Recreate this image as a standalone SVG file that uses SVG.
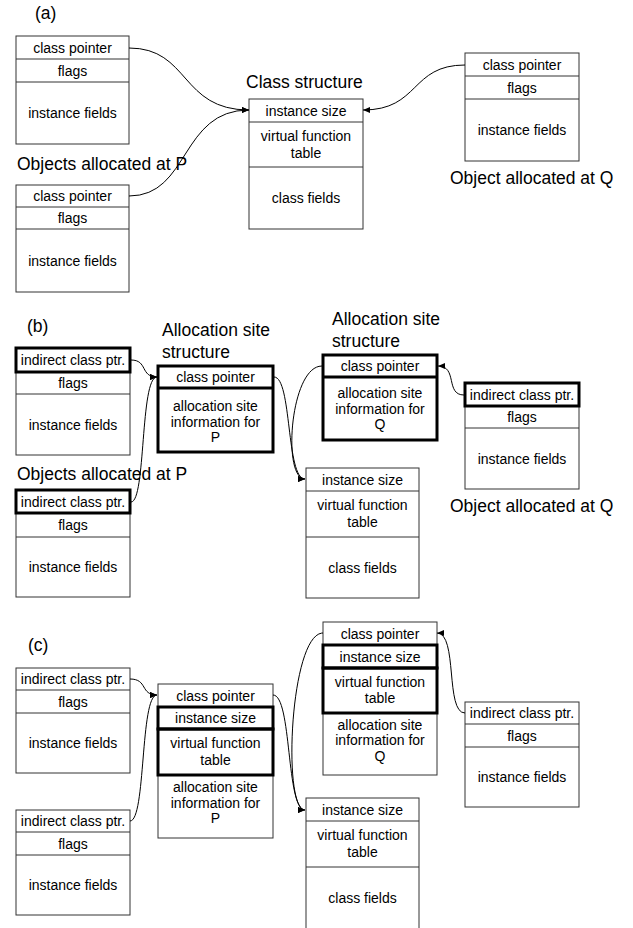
<svg xmlns="http://www.w3.org/2000/svg" width="633" height="928" viewBox="0 0 633 928">
<defs>
<style>
.bx{fill:#fff;stroke:#333;stroke-width:1}
.ln{stroke:#333;stroke-width:1}
.tk{fill:none;stroke:#000;stroke-width:3}
.t{font-family:"Liberation Sans",Arial,sans-serif;font-size:14px;fill:#000;text-anchor:middle}
.lb{font-family:"Liberation Sans",Arial,sans-serif;font-size:17.5px;fill:#000}
.c{fill:none;stroke:#000;stroke-width:1}
</style>
<marker id="ah" markerWidth="7" markerHeight="6" refX="7" refY="3" orient="auto" markerUnits="userSpaceOnUse">
<path d="M0,0 L7,3 L0,6 z" fill="#000"/>
</marker>
</defs>
<rect width="633" height="928" fill="#fff"/>

<!-- (a) -->
<text class="lb" x="35" y="19">(a)</text>
<text class="lb" x="246" y="88">Class structure</text>
<text class="lb" x="17" y="170">Objects allocated at P</text>
<text class="lb" x="450" y="184">Object allocated at Q</text>

<g id="a-objP1">
<rect class="bx" x="16" y="36" width="113" height="108"/>
<line class="ln" x1="16" y1="59" x2="129" y2="59"/>
<line class="ln" x1="16" y1="82" x2="129" y2="82"/>
<text class="t" x="72.5" y="52.5">class pointer</text>
<text class="t" x="72.5" y="75.5">flags</text>
<text class="t" x="72.5" y="118">instance fields</text>
</g>
<g id="a-objP2">
<rect class="bx" x="16" y="185" width="113" height="107"/>
<line class="ln" x1="16" y1="207" x2="129" y2="207"/>
<line class="ln" x1="16" y1="229" x2="129" y2="229"/>
<text class="t" x="72.5" y="201">class pointer</text>
<text class="t" x="72.5" y="223">flags</text>
<text class="t" x="72.5" y="266">instance fields</text>
</g>
<g id="a-class">
<rect class="bx" x="249" y="99" width="114" height="130"/>
<line class="ln" x1="249" y1="122" x2="363" y2="122"/>
<line class="ln" x1="249" y1="167" x2="363" y2="167"/>
<text class="t" x="306" y="115.5">instance size</text>
<text class="t" x="306" y="141">virtual function</text>
<text class="t" x="306" y="157.5">table</text>
<text class="t" x="306" y="203">class fields</text>
</g>
<g id="a-objQ">
<rect class="bx" x="465" y="53" width="114" height="108"/>
<line class="ln" x1="465" y1="76" x2="579" y2="76"/>
<line class="ln" x1="465" y1="99" x2="579" y2="99"/>
<text class="t" x="522" y="69.5">class pointer</text>
<text class="t" x="522" y="92.5">flags</text>
<text class="t" x="522" y="135">instance fields</text>
</g>

<!-- (b) -->
<text class="lb" x="27" y="332">(b)</text>
<text class="lb" x="162" y="336">Allocation site</text>
<text class="lb" x="162" y="358">structure</text>
<text class="lb" x="332" y="325">Allocation site</text>
<text class="lb" x="332" y="347">structure</text>
<text class="lb" x="17" y="480">Objects allocated at P</text>
<text class="lb" x="450" y="512">Object allocated at Q</text>

<g id="b-objP1">
<rect class="bx" x="16" y="348" width="114" height="107"/>
<line class="ln" x1="16" y1="394" x2="130" y2="394"/>
<rect class="tk" x="16" y="348" width="114" height="24"/>
<text class="t" x="73" y="365">indirect class ptr.</text>
<text class="t" x="73" y="388">flags</text>
<text class="t" x="73" y="429.5">instance fields</text>
</g>
<g id="b-objP2">
<rect class="bx" x="16" y="490" width="114" height="107"/>
<line class="ln" x1="16" y1="537" x2="130" y2="537"/>
<rect class="tk" x="16" y="490" width="114" height="23"/>
<text class="t" x="73" y="506.5">indirect class ptr.</text>
<text class="t" x="73" y="530">flags</text>
<text class="t" x="73" y="572">instance fields</text>
</g>
<g id="b-siteP">
<rect class="bx" x="158" y="366" width="115" height="86"/>
<rect class="tk" x="158" y="366" width="115" height="86"/>
<line x1="158" y1="388" x2="273" y2="388" stroke="#000" stroke-width="3"/>
<text class="t" x="215.5" y="382">class pointer</text>
<text class="t" x="215.5" y="411">allocation site</text>
<text class="t" x="215.5" y="426.5">information for</text>
<text class="t" x="215.5" y="442">P</text>
</g>
<g id="b-siteQ">
<rect class="bx" x="323" y="355" width="114" height="85"/>
<rect class="tk" x="323" y="355" width="114" height="85"/>
<line x1="323" y1="377" x2="437" y2="377" stroke="#000" stroke-width="3"/>
<text class="t" x="380" y="371">class pointer</text>
<text class="t" x="380" y="398">allocation site</text>
<text class="t" x="380" y="413.5">information for</text>
<text class="t" x="380" y="429">Q</text>
</g>
<g id="b-class">
<rect class="bx" x="306" y="468" width="113" height="130"/>
<line class="ln" x1="306" y1="491" x2="419" y2="491"/>
<line class="ln" x1="306" y1="537" x2="419" y2="537"/>
<text class="t" x="362.5" y="484.5">instance size</text>
<text class="t" x="362.5" y="510">virtual function</text>
<text class="t" x="362.5" y="526.5">table</text>
<text class="t" x="362.5" y="572.5">class fields</text>
</g>
<g id="b-objQ">
<rect class="bx" x="465" y="383" width="114" height="106"/>
<line class="ln" x1="465" y1="428" x2="579" y2="428"/>
<rect class="tk" x="465" y="383" width="114" height="23"/>
<text class="t" x="522" y="399.5">indirect class ptr.</text>
<text class="t" x="522" y="422">flags</text>
<text class="t" x="522" y="463.5">instance fields</text>
</g>

<!-- (c) -->
<text class="lb" x="28" y="651">(c)</text>

<g id="c-objP1">
<rect class="bx" x="16" y="668" width="114" height="105"/>
<line class="ln" x1="16" y1="690" x2="130" y2="690"/>
<line class="ln" x1="16" y1="713" x2="130" y2="713"/>
<text class="t" x="73" y="684">indirect class ptr.</text>
<text class="t" x="73" y="706.5">flags</text>
<text class="t" x="73" y="748">instance fields</text>
</g>
<g id="c-objP2">
<rect class="bx" x="16" y="810" width="114" height="105"/>
<line class="ln" x1="16" y1="832" x2="130" y2="832"/>
<line class="ln" x1="16" y1="855" x2="130" y2="855"/>
<text class="t" x="73" y="826">indirect class ptr.</text>
<text class="t" x="73" y="848.5">flags</text>
<text class="t" x="73" y="890">instance fields</text>
</g>
<g id="c-siteP">
<rect class="bx" x="158" y="684" width="115" height="154"/>
<rect class="tk" x="158" y="707" width="115" height="22"/>
<rect class="tk" x="158" y="729" width="115" height="46"/>
<text class="t" x="215.5" y="700.5">class pointer</text>
<text class="t" x="215.5" y="723">instance size</text>
<text class="t" x="215.5" y="748">virtual function</text>
<text class="t" x="215.5" y="764.5">table</text>
<text class="t" x="215.5" y="792">allocation site</text>
<text class="t" x="215.5" y="807.5">information for</text>
<text class="t" x="215.5" y="823">P</text>
</g>
<g id="c-siteQ">
<rect class="bx" x="323" y="622" width="114" height="153"/>
<rect class="tk" x="323" y="645" width="114" height="23"/>
<rect class="tk" x="323" y="668" width="114" height="45"/>
<text class="t" x="380" y="638.5">class pointer</text>
<text class="t" x="380" y="661.5">instance size</text>
<text class="t" x="380" y="687">virtual function</text>
<text class="t" x="380" y="703">table</text>
<text class="t" x="380" y="729.5">allocation site</text>
<text class="t" x="380" y="745">information for</text>
<text class="t" x="380" y="760.5">Q</text>
</g>
<g id="c-class">
<rect class="bx" x="306" y="798" width="113" height="140"/>
<line class="ln" x1="306" y1="821" x2="419" y2="821"/>
<line class="ln" x1="306" y1="867" x2="419" y2="867"/>
<text class="t" x="362.5" y="814.5">instance size</text>
<text class="t" x="362.5" y="840">virtual function</text>
<text class="t" x="362.5" y="856.5">table</text>
<text class="t" x="362.5" y="903">class fields</text>
</g>
<g id="c-objQ">
<rect class="bx" x="465" y="702" width="114" height="105"/>
<line class="ln" x1="465" y1="724" x2="579" y2="724"/>
<line class="ln" x1="465" y1="747" x2="579" y2="747"/>
<text class="t" x="522" y="718">indirect class ptr.</text>
<text class="t" x="522" y="740.5">flags</text>
<text class="t" x="522" y="782">instance fields</text>
</g>

<g id="connectors">
<path class="c" marker-end="url(#ah)" d="M129,48 C190,48 180,110 249,110"/>
<path class="c" marker-end="url(#ah)" d="M129,196 C190,196 180,110 249,110"/>
<path class="c" marker-end="url(#ah)" d="M465,65 C410,65 420,110 363,110"/>

<path class="c" marker-end="url(#ah)" d="M131,360 C148,360 140,377 157,377"/>
<path class="c" marker-end="url(#ah)" d="M131,502 C146,502 140,377 157,377"/>
<path class="c" marker-end="url(#ah)" d="M274,377 C292,377 286,479 305,479"/>
<path class="c" marker-end="url(#ah)" d="M322,366 C290,366 282,479 305,479"/>
<path class="c" marker-end="url(#ah)" d="M464,395 C445,395 458,366 438,366"/>

<path class="c" marker-end="url(#ah)" d="M130,679 C148,679 140,695 157,695"/>
<path class="c" marker-end="url(#ah)" d="M130,821 C146,821 140,695 157,695"/>
<path class="c" marker-end="url(#ah)" d="M273,695 C292,695 286,810 305,810"/>
<path class="c" marker-end="url(#ah)" d="M323,633 C290,633 282,810 305,810"/>
<path class="c" marker-end="url(#ah)" d="M465,713 C445,713 458,633 437,633"/>
</g>
</svg>
